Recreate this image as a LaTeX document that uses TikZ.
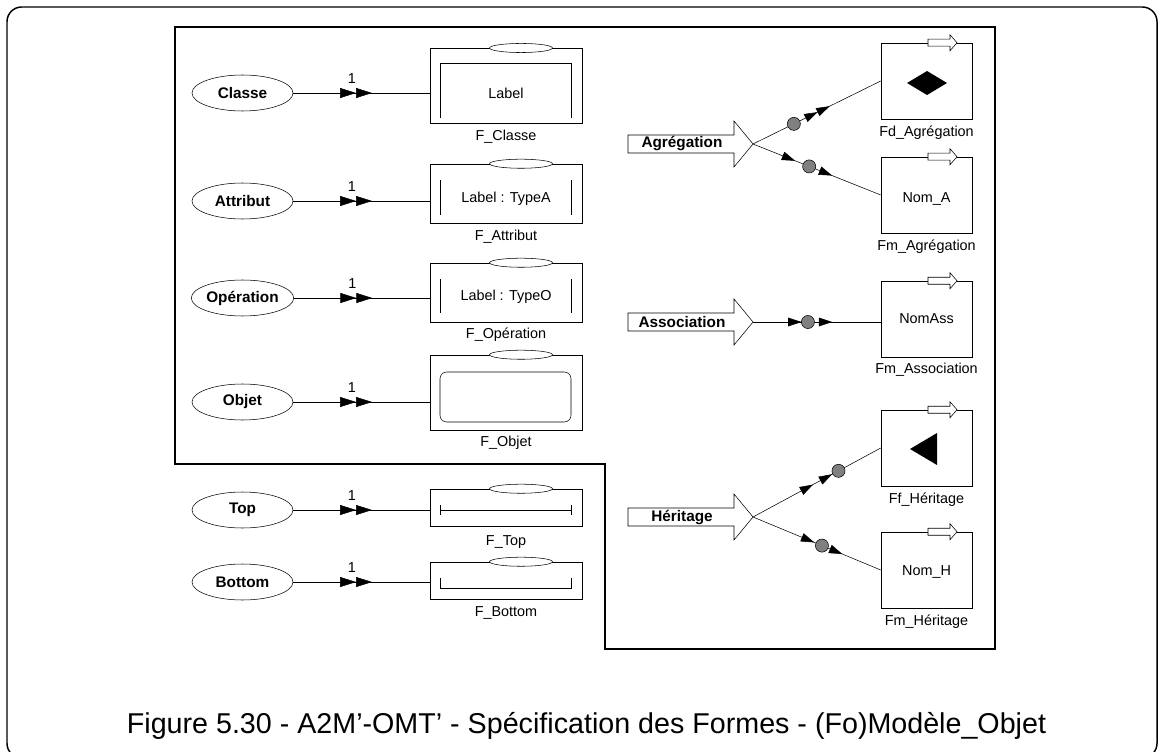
\documentclass[tikz,border=0pt]{standalone}
\usepackage{fontspec}
\setmainfont{Liberation Sans}
\usepackage{tikz}
\usetikzlibrary{arrows.meta,positioning,decorations.markings,shapes.geometric}
\newcommand{\fsz}{\fontsize{10.8pt}{13pt}\selectfont}
\newcommand{\fbd}{\fontsize{11.5pt}{13pt}\selectfont\bfseries}
% fleche d'entree (nom, y, texte)
\newcommand{\grandefleche}[3]{%
  \draw[fill=white] (628,#2-9) -- (734,#2-9) -- (734,#2-23) -- (753,#2)
     -- (734,#2+23) -- (734,#2+9) -- (628,#2+9) -- cycle;
  \node[txt, font=\fbd] (#1) at (682,#2) {#3};
  \coordinate (#1-pt) at (753,#2);}
% petite fleche creuse sur le bord haut
\newcommand{\etiq}[1]{%
  \draw[fill=white, shift={(#1.north)}] (1.5,-3.5) -- (23.5,-3.5) -- (23.5,-8)
     -- (30.5,0) -- (23.5,8) -- (23.5,3.5) -- (1.5,3.5) -- cycle;}
% petite ellipse sur le bord haut
\newcommand{\oeil}[1]{%
  \draw[fill=white] ([xshift=11.25pt]#1.north) ellipse (23.6pt and 3.4pt);}
\begin{document}
\begin{tikzpicture}[
  x=0.75pt, y=-0.75pt,
  ent/.style={draw, ellipse, minimum width=75.75pt, minimum height=27pt,
              inner sep=0pt, font=\fbd},
  forme/.style={draw, fill=white, minimum width=114pt, inner sep=0pt},
  cible/.style={draw, minimum width=68.25pt, minimum height=57pt, inner sep=0pt},
  txt/.style={inner sep=0pt, font=\fsz},
  dbl/.style={postaction={decorate, decoration={markings, mark=at position #1 with
      {\arrow{Triangle[length=12pt,width=7.5pt]Triangle[length=12pt,width=7.5pt]}}}}},
  fleche/.style={postaction={decorate, decoration={markings, mark=at position #1 with
      {\arrow{Triangle[length=10pt,width=6.5pt]}}}}},
  fleche2/.style={postaction={decorate, decoration={markings, mark=at position #1 with
      {\arrow{Triangle[length=10pt,width=6.5pt]Triangle[length=10pt,width=6.5pt]}}}}},
  pion/.style={postaction={decorate, decoration={markings, mark=at position #1 with
      {\filldraw[fill=gray] (0,0) circle (4.9pt);}}}},
]
\useasboundingbox (0,0) rectangle (1159,752);
\draw[line width=1.1pt, rounded corners=11pt] (7,7) rectangle (1157,758);
\draw[line width=1.5pt] (175,27) -- (995,27) -- (995,649) -- (605,649)
   -- (605,464) -- (175,464) -- cycle;

% formes de gauche
\node[ent] (cl) at (242.5,93) {Classe};
\node[ent] (at) at (242.5,201) {Attribut};
\node[ent] (op) at (242.5,298) {Opération};
\node[ent] (ob) at (242.5,402) {Objet};
\node[ent] (tp) at (242.5,510) {Top};
\node[ent] (bt) at (242.5,582) {Bottom};

\node[forme, minimum height=56.25pt] (fcl) at (506,85.5) {};
\node[forme, minimum height=44.25pt] (fat) at (506,193.5) {};
\node[forme, minimum height=44.25pt] (fop) at (506,292.5) {};
\node[forme, minimum height=56.25pt] (fob) at (506,392.5) {};
\node[forme, minimum height=27.75pt] (ftp) at (506,507.5) {};
\node[forme, minimum height=27.75pt] (fbt) at (506,580.5) {};
\oeil{fat} \oeil{fop} \oeil{fob} \oeil{ftp} \oeil{fbt}
\draw[fill=white] (521,48) ellipse (23.6pt and 3.4pt);

\draw (440,118) |- (571,63) -- (571,118);
\node[txt] (lcl) at (506,93) {Label};
\draw (440,180) -- (440,215) (571,180) -- (571,215);
\node[txt] (lat) at (506,199) {Label : TypeA};
\draw (440,279) -- (440,313) (571,279) -- (571,313);
\node[txt] (lop) at (506,297) {Label : TypeO};
\draw[rounded corners=5pt] (440,372) rectangle (571,422);
\draw (440,505) -- (440,515) (440,510) -- (571,510) (571,505) -- (571,515);
\draw (440,578) |- (571,588) -- (571,578);

\node[txt] (ncl) at (506,137) {F\_Classe};
\node[txt] (nat) at (506,237) {F\_Attribut};
\node[txt] (nop) at (506,335) {F\_Opération};
\node[txt] (nob) at (506,443) {F\_Objet};
\node[txt] (ntp) at (506,542) {F\_Top};
\node[txt] (nbt) at (506,613) {F\_Bottom};

\draw[dbl=0.577] (cl.east) -- (cl.east -| fcl.west) node[txt, pos=0.43, above=7pt] (c1) {1};
\draw[dbl=0.577] (at.east) -- (at.east -| fat.west) node[txt, pos=0.43, above=7pt] (c2) {1};
\draw[dbl=0.577] (op.east) -- (op.east -| fop.west) node[txt, pos=0.43, above=7pt] (c3) {1};
\draw[dbl=0.577] (ob.east) -- (ob.east -| fob.west) node[txt, pos=0.43, above=7pt] (c4) {1};
\draw[dbl=0.577] (tp.east) -- (tp.east -| ftp.west) node[txt, pos=0.43, above=7pt] (c5) {1};
\draw[dbl=0.577] (bt.east) -- (bt.east -| fbt.west) node[txt, pos=0.43, above=7pt] (c6) {1};

% liens de droite
\grandefleche{agr}{144}{Agrégation}
\grandefleche{ass}{322}{Association}
\grandefleche{her}{517}{Héritage}

\node[cible] (fda) at (926.5,81) {};
\node[cible] (fma) at (926.5,195) {};
\node[cible] (fms) at (926.5,319) {};
\node[cible] (ffh) at (926.5,448) {};
\node[cible] (fmh) at (926.5,570) {};
\etiq{fda} \etiq{fma} \etiq{fms} \etiq{ffh} \etiq{fmh}

\fill (907,83) -- (927,71) -- (947,83) -- (927,95) -- cycle;
\fill (910,449) -- (937,433) -- (937,465) -- cycle;
\node[txt] (nma) at (926.5,199) {Nom\_A};
\node[txt] (nms) at (926.5,319) {NomAss};
\node[txt] (nmh) at (926.5,572) {Nom\_H};

\node[txt] (tfda) at (926.5,133) {Fd\_Agrégation};
\node[txt] (tfma) at (926.5,247) {Fm\_Agrégation};
\node[txt] (tfms) at (926.5,370) {Fm\_Association};
\node[txt] (tffh) at (926.5,500) {Ff\_Héritage};
\node[txt] (tfmh) at (926.5,622) {Fm\_Héritage};

\draw[fleche2=0.6, pion=0.32] (agr-pt) -- (fda.west);
\draw[fleche=0.33, fleche=0.62, pion=0.44] (agr-pt) -- (fma.west);
\draw[fleche=0.38, fleche=0.62, pion=0.43] (ass-pt) -- (ass-pt -| fms.west);
\draw[fleche=0.47, fleche=0.62, pion=0.67] (her-pt) -- (ffh.west);
\draw[fleche=0.48, fleche=0.70, pion=0.54] (her-pt) -- (fmh.west);

\node[font=\fontsize{21.5pt}{24pt}\selectfont, anchor=base] (titre) at (586.5,733)
  {Figure 5.30 - A2M’-OMT’ - Spécification des Formes - (Fo)Modèle\_Objet};
\end{tikzpicture}
\end{document}
